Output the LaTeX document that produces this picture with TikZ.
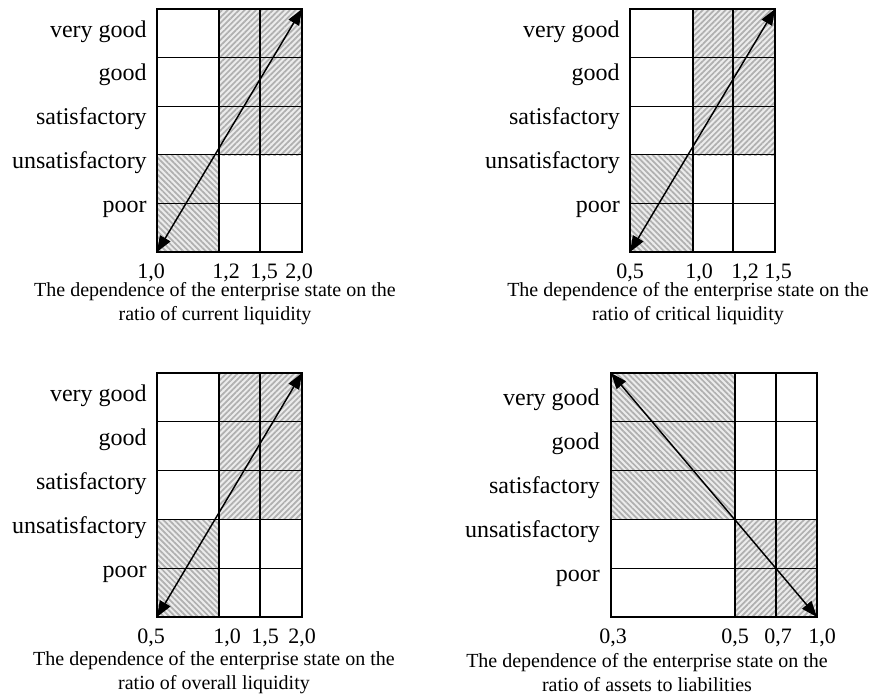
\documentclass[tikz,border=0pt]{standalone}
\usepackage{fontspec}
\setmainfont{Liberation Serif}
\usepackage{tikz}
\usetikzlibrary{arrows.meta,patterns.meta}

\begin{document}
\begin{tikzpicture}[x=0.75pt,y=-0.75pt,
  cellgrid/.style={draw=black,line width=0.8pt},
  hatchup/.style={preaction={fill=gray!15},pattern color=gray!62,
              pattern={Lines[angle=45,distance=3pt,line width=1.3pt]}},
  hatchdown/.style={preaction={fill=gray!15},pattern color=gray!62,
              pattern={Lines[angle=-45,distance=3pt,line width=1.3pt]}},
  statelbl/.style={anchor=base east,inner sep=0pt,
              font=\fontsize{18}{20}\selectfont},
  ticklbl/.style={anchor=base,inner sep=0pt,
              font=\fontsize{16.5}{18}\selectfont},
  capt/.style={anchor=base,inner sep=0pt,align=center,
              font=\fontsize{15}{17.3}\selectfont},
  arr/.style={{Triangle[length=12pt,width=9pt]}-{Triangle[length=12pt,width=9pt]},
              line width=1.1pt}]
\useasboundingbox (0,0) rectangle (870,696);

% Current liquidity (top left)
\fill[hatchup] (219,9) rectangle (302,155.4);
\fill[hatchdown] (157,155.4) rectangle (219,252);
\draw[cellgrid] (157,9) rectangle (302,252);
\foreach \r in {1,...,4} \draw[cellgrid] (157,{9+48.6*\r}) -- (302,{9+48.6*\r});
\draw[cellgrid] (219,9) -- (219,252) (260,9) -- (260,252);
\coordinate (cl-sw) at (157,252);
\coordinate (cl-ne) at (302,9);
\draw[arr] (cl-sw) -- (cl-ne);
\foreach \lbl [count=\i from 0] in {very good,good,satisfactory,unsatisfactory,poor}
  \node[statelbl] (cl-s\i) at (147,{37+43.8*\i}) {\lbl};
\node[ticklbl] (cl-t1) at (151,278) {1,0};
\node[ticklbl] (cl-t2) at (226,278) {1,2};
\node[ticklbl] (cl-t3) at (264,278) {1,5};
\node[ticklbl] (cl-t4) at (299,278) {2,0};
\node[capt] (cl-cap) at (215,320)
  {The dependence of the enterprise state on the\\ratio of current liquidity};

% Critical liquidity (top right)
\fill[hatchup] (693,9) rectangle (775,155.4);
\fill[hatchdown] (630,155.4) rectangle (693,252);
\draw[cellgrid] (630,9) rectangle (775,252);
\foreach \r in {1,...,4} \draw[cellgrid] (630,{9+48.6*\r}) -- (775,{9+48.6*\r});
\draw[cellgrid] (693,9) -- (693,252) (733,9) -- (733,252);
\coordinate (kl-sw) at (630,252);
\coordinate (kl-ne) at (775,9);
\draw[arr] (kl-sw) -- (kl-ne);
\foreach \lbl [count=\i from 0] in {very good,good,satisfactory,unsatisfactory,poor}
  \node[statelbl] (kl-s\i) at (620,{37+43.8*\i}) {\lbl};
\node[ticklbl] (kl-t1) at (630,278) {0,5};
\node[ticklbl] (kl-t2) at (699,278) {1,0};
\node[ticklbl] (kl-t3) at (745,278) {1,2};
\node[ticklbl] (kl-t4) at (778,278) {1,5};
\node[capt] (kl-cap) at (688,320)
  {The dependence of the enterprise state on the\\ratio of critical liquidity};

% Overall liquidity (bottom left)
\fill[hatchup] (219,373) rectangle (302,519.4);
\fill[hatchdown] (157,519.4) rectangle (219,617);
\draw[cellgrid] (157,373) rectangle (302,617);
\foreach \r in {1,...,4} \draw[cellgrid] (157,{373+48.8*\r}) -- (302,{373+48.8*\r});
\draw[cellgrid] (219,373) -- (219,617) (260,373) -- (260,617);
\coordinate (ol-sw) at (157,617);
\coordinate (ol-ne) at (302,373);
\draw[arr] (ol-sw) -- (ol-ne);
\foreach \lbl [count=\i from 0] in {very good,good,satisfactory,unsatisfactory,poor}
  \node[statelbl] (ol-s\i) at (147,{401+44*\i}) {\lbl};
\node[ticklbl] (ol-t1) at (151,643) {0,5};
\node[ticklbl] (ol-t2) at (227,643) {1,0};
\node[ticklbl] (ol-t3) at (265,643) {1,5};
\node[ticklbl] (ol-t4) at (302,643) {2,0};
\node[capt] (ol-cap) at (214,689)
  {The dependence of the enterprise state on the\\ratio of overall liquidity};

% Assets to liabilities (bottom right)
\fill[hatchdown] (611,373) rectangle (735,519.4);
\fill[hatchup] (735,519.4) rectangle (817,617);
\draw[cellgrid] (611,373) rectangle (817,617);
\foreach \r in {1,...,4} \draw[cellgrid] (611,{373+48.8*\r}) -- (817,{373+48.8*\r});
\draw[cellgrid] (735,373) -- (735,617) (776,373) -- (776,617);
\coordinate (al-nw) at (611,373);
\coordinate (al-se) at (817,617);
\draw[arr] (al-nw) -- (al-se);
\foreach \lbl [count=\i from 0] in {very good,good,satisfactory,unsatisfactory,poor}
  \node[statelbl] (al-s\i) at (600,{405+44*\i}) {\lbl};
\node[ticklbl] (al-t1) at (613,643) {0,3};
\node[ticklbl] (al-t2) at (735,643) {0,5};
\node[ticklbl] (al-t3) at (778,643) {0,7};
\node[ticklbl] (al-t4) at (822,643) {1,0};
\node[capt] (al-cap) at (647,691)
  {The dependence of the enterprise state on the\\ratio of assets to liabilities};
\end{tikzpicture}
\end{document}
